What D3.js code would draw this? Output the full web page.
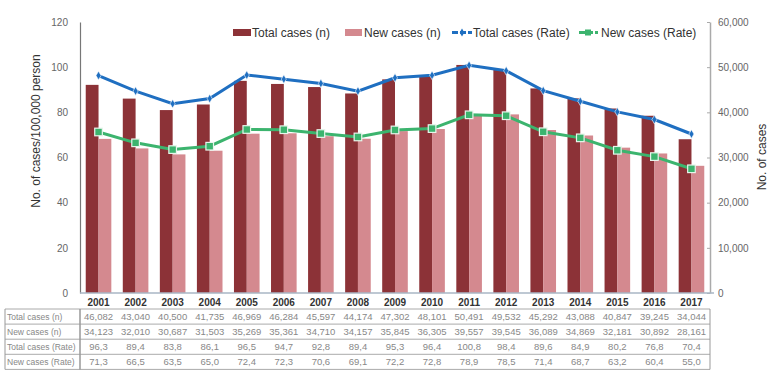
<!DOCTYPE html>
<html>
<head>
<meta charset="utf-8">
<script src="https://cdn.jsdelivr.net/npm/d3@7"></script>
<style>
  body { margin: 0; background: #fff; }
  text { font-family: "Liberation Sans", Arial, sans-serif; }
</style>
</head>
<body>
<div id="chart"></div>
<script>
// data
const years = ["2001","2002","2003","2004","2005","2006","2007","2008","2009","2010","2011","2012","2013","2014","2015","2016","2017"];
const totalCases = [46082,43040,40500,41735,46969,46284,45597,44174,47302,48101,50491,49532,45292,43088,40847,39245,34044];
const newCases = [34123,32010,30687,31503,35269,35361,34710,34157,35845,36305,39557,39545,36089,34869,32181,30892,28161];
const totalRate = [96.3,89.4,83.8,86.1,96.5,94.7,92.8,89.4,95.3,96.4,100.8,98.4,89.6,84.9,80.2,76.8,70.4];
const newRate = [71.3,66.5,63.5,65.0,72.4,72.3,70.6,69.1,72.2,72.8,78.9,78.5,71.4,68.7,63.2,60.4,55.0];
const leftTicks = [0,20,40,60,80,100,120];
const rightTicks = [0,10000,20000,30000,40000,50000,60000];

const W = 779, H = 376;
const plot = {left: 80, right: 710, top: 22, bottom: 293};

const svg = d3.select("#chart").append("svg")
    .attr("width", W).attr("height", H);

const x = d3.scaleBand().domain(years).range([plot.left, plot.right]);
const yL = d3.scaleLinear().domain([0, 120]).range([plot.bottom, plot.top]);
const yR = d3.scaleLinear().domain([0, 60000]).range([plot.bottom, plot.top]);

const darkRed = "#8c3237", pink = "#d4898f", blue = "#1f6fc1", green = "#3cb46e";
const barW = 12.8;

// bars (right axis)
svg.append("g").selectAll("rect").data(years).enter().append("rect")
  .attr("x", d => x(d) + x.bandwidth() / 2 - barW)
  .attr("width", barW)
  .attr("y", (d, i) => yR(totalCases[i]))
  .attr("height", (d, i) => plot.bottom - yR(totalCases[i]))
  .attr("fill", darkRed);

svg.append("g").selectAll("rect").data(years).enter().append("rect")
  .attr("x", d => x(d) + x.bandwidth() / 2)
  .attr("width", barW)
  .attr("y", (d, i) => yR(newCases[i]))
  .attr("height", (d, i) => plot.bottom - yR(newCases[i]))
  .attr("fill", pink);

// axes
const gL = svg.append("g").attr("transform", `translate(${plot.left},0)`)
  .call(d3.axisLeft(yL).tickValues(leftTicks).tickSize(0).tickPadding(12));
gL.select(".domain").attr("stroke", "#777").attr("stroke-width", 1.2);
gL.selectAll("text").attr("fill", "#666").style("font-size", "10px");

const gR = svg.append("g").attr("transform", `translate(${plot.right},0)`)
  .call(d3.axisRight(yR).tickValues(rightTicks).tickSize(0).tickPadding(8)
    .tickFormat(d3.format(",")));
gR.select(".domain").attr("stroke", "#aaa").attr("stroke-width", 1.5);
gR.selectAll("text").attr("fill", "#666").style("font-size", "10px");
gR.selectAll(".tick").append("line").attr("x1", -3).attr("x2", 0).attr("stroke", "#aaa");

svg.append("line")
  .attr("x1", plot.left).attr("x2", plot.right + 4)
  .attr("y1", plot.bottom).attr("y2", plot.bottom)
  .attr("stroke", "#a9b6c4").attr("stroke-width", 1.5);

// axis titles
svg.append("text")
  .attr("transform", `translate(40,131) rotate(-90)`)
  .attr("text-anchor", "middle")
  .style("font-size", "12px").attr("fill", "#333")
  .text("No. of cases/100,000 person");
svg.append("text")
  .attr("transform", `translate(766,157) rotate(-90)`)
  .attr("text-anchor", "middle")
  .style("font-size", "12px").attr("fill", "#333")
  .text("No. of cases");

// lines (left axis)
const cx = d => x(d) + x.bandwidth() / 2;
const line = vals => d3.line().x(d => cx(d)).y((d, i) => yL(vals[i]));

svg.append("path").datum(years)
  .attr("d", line(totalRate))
  .attr("fill", "none").attr("stroke", blue).attr("stroke-width", 3);
svg.append("g").selectAll("path").data(years).enter().append("path")
  .attr("d", d3.symbol(d3.symbolDiamond, 22))
  .attr("transform", (d, i) => `translate(${cx(d)},${yL(totalRate[i])})`)
  .attr("fill", blue).attr("stroke", "#fff").attr("stroke-width", 0.6);

svg.append("path").datum(years)
  .attr("d", line(newRate))
  .attr("fill", "none").attr("stroke", green).attr("stroke-width", 3);
svg.append("g").selectAll("rect").data(years).enter().append("rect")
  .attr("x", d => cx(d) - 3.8).attr("y", (d, i) => yL(newRate[i]) - 3.8)
  .attr("width", 7.6).attr("height", 7.6)
  .attr("fill", green).attr("stroke", "#e8f5ec").attr("stroke-width", 1.2);

// legend
const lg = svg.append("g").style("font-size", "12px");
lg.append("rect").attr("x", 233).attr("y", 29).attr("width", 18).attr("height", 7).attr("fill", darkRed);
lg.append("text").attr("x", 252).attr("y", 37).attr("fill", "#333").text("Total cases (n)");
lg.append("rect").attr("x", 345).attr("y", 29).attr("width", 17).attr("height", 7).attr("fill", pink);
lg.append("text").attr("x", 364).attr("y", 37).attr("fill", "#333").text("New cases (n)");
lg.append("line").attr("x1", 452).attr("x2", 472).attr("y1", 32.5).attr("y2", 32.5)
  .attr("stroke", blue).attr("stroke-width", 3).attr("stroke-dasharray", "6,2");
lg.append("path").attr("d", d3.symbol(d3.symbolDiamond, 18)).attr("transform", "translate(462,32.5)").attr("fill", blue);
lg.append("text").attr("x", 473).attr("y", 37).attr("fill", "#333").text("Total cases (Rate)");
lg.append("line").attr("x1", 579).attr("x2", 598).attr("y1", 32.5).attr("y2", 32.5)
  .attr("stroke", green).attr("stroke-width", 3).attr("stroke-dasharray", "6,2");
lg.append("rect").attr("x", 585).attr("y", 29.5).attr("width", 6).attr("height", 6).attr("fill", green);
lg.append("text").attr("x", 601).attr("y", 37).attr("fill", "#333").text("New cases (Rate)");

// year labels
svg.append("g").selectAll("text").data(years).enter().append("text")
  .attr("x", d => cx(d)).attr("y", 305.5)
  .attr("text-anchor", "middle")
  .style("font-size", "10px").style("font-weight", "bold").attr("fill", "#333")
  .text(d => d);

// data table
const rowLabels = ["Total cases (n)", "New cases (n)", "Total cases (Rate)", "New cases (Rate)"];
const fmtN = d3.format(",");
const fmtR = v => v.toFixed(1).replace(".", ",");
const rows = [
  totalCases.map(fmtN),
  newCases.map(fmtN),
  totalRate.map(fmtR),
  newRate.map(fmtR)
];
const tTop = 309, rowH = 15.1, tLeft = 5;
const tBottom = tTop + rowH * rows.length;
const tb = svg.append("g");
tb.selectAll("line.h").data(d3.range(rows.length + 1)).enter().append("line")
  .attr("x1", tLeft).attr("x2", plot.right)
  .attr("y1", i => tTop + i * rowH).attr("y2", i => tTop + i * rowH)
  .attr("stroke", "#aaa").attr("stroke-width", 1);
[tLeft, plot.left, plot.right].forEach(xx => {
  tb.append("line").attr("x1", xx).attr("x2", xx).attr("y1", tTop).attr("y2", tBottom)
    .attr("stroke", "#999").attr("stroke-width", xx === plot.left ? 1.5 : 1);
});
rows.forEach((r, ri) => {
  const ty = tTop + ri * rowH + rowH / 2 + 3.5;
  tb.append("text").attr("x", tLeft + 2).attr("y", ty)
    .style("font-size", "8.5px").attr("fill", "#888").text(rowLabels[ri]);
  tb.selectAll(null).data(r).enter().append("text")
    .attr("x", (d, i) => cx(years[i])).attr("y", ty)
    .attr("text-anchor", "middle")
    .style("font-size", "9.5px").attr("fill", "#888")
    .text(d => d);
});
</script>
</body>
</html>
